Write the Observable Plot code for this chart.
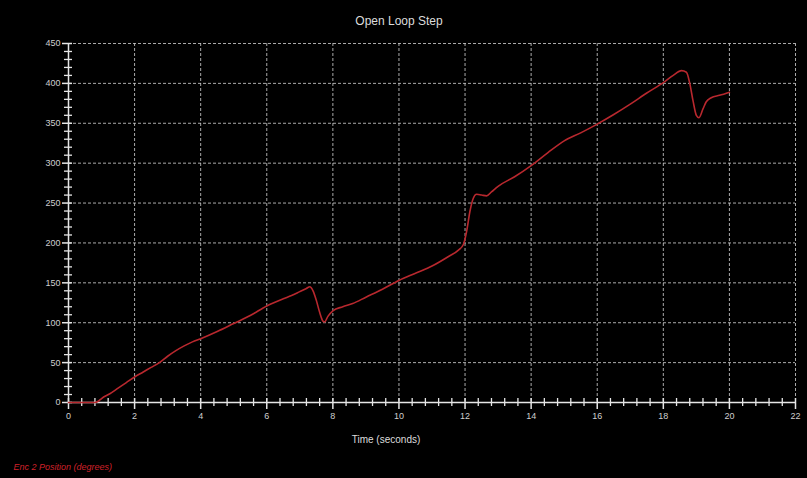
<!DOCTYPE html>
<html>
<head>
<meta charset="utf-8">
<script src="https://cdn.jsdelivr.net/npm/d3@7"></script>
<script src="https://cdn.jsdelivr.net/npm/@observablehq/plot@0.6"></script>
<style>
  html, body { margin: 0; padding: 0; background: #000; }
  #chart { width: 807px; height: 478px; background: #000; }
</style>
</head>
<body>
<div id="chart"></div>
<script>
// Encoder 2 position during an open-loop step
const title = "Open Loop Step";
const xLabel = "Time (seconds)";
const seriesName = "Enc 2 Position (degrees)";

const timeSec = [
  0, 0.8, 0.9, 1.0, 1.25, 1.5, 1.75, 2.0, 2.25, 2.5, 2.75, 3.0, 3.25, 3.5, 3.75,
  4.0, 4.5, 5.0, 5.5, 6.0, 6.5, 6.75, 7.0, 7.2, 7.3, 7.4, 7.5, 7.6, 7.7, 7.75,
  7.85, 8.0, 8.3, 8.6, 9.0, 9.5, 10.0, 10.5, 11.0, 11.5, 11.8, 11.95, 12.05,
  12.15, 12.25, 12.35, 12.5, 12.65, 12.8, 13.0, 13.5, 14.0, 14.5, 15.0, 15.5,
  16.0, 16.5, 17.0, 17.5, 18.0, 18.3, 18.55, 18.7, 18.8, 18.9, 19.0, 19.08,
  19.2, 19.3, 19.45, 19.7, 20.0
];
const positionDeg = [
  0, 0, 1.5, 5, 11, 18, 25, 32, 38, 44, 50, 58, 65, 71, 76,
  80, 89, 99, 109, 121, 130, 134, 139, 143, 145, 140, 128, 113, 102, 101,
  108, 115, 120, 124, 132, 142, 153, 162, 171, 183, 191, 198, 215,
  240, 256, 261, 260, 259, 264, 271, 283, 297, 313, 328, 338,
  349, 361, 374, 388, 401, 410, 416, 414, 400, 378, 360, 357,
  368, 377, 382, 385, 389
];

const xTicks = [0, 2, 4, 6, 8, 10, 12, 14, 16, 18, 20, 22];
const yTicks = [0, 50, 100, 150, 200, 250, 300, 350, 400, 450];
const xMinor = d3.range(0, 56).map(i => +(i * 0.4).toFixed(1)).filter(v => !xTicks.includes(v));
const yMinor = d3.range(0, 46).map(i => i * 10).filter(v => !yTicks.includes(v));

const data = timeSec.map((t, i) => ({t, p: positionDeg[i]}));

const axisColor = "#e6e6e6";
const textColor = "#cfcfcf";
const gridColor = "#c8c8c8";
const lineColor = "#b8282e";

const chart = Plot.plot({
  width: 807,
  height: 478,
  marginLeft: 68,
  marginRight: 12,
  marginTop: 43,
  marginBottom: 76,
  style: {background: "#000", color: textColor, fontFamily: "'Liberation Sans', Arial, sans-serif", fontSize: "9px"},
  x: {domain: [0, 22]},
  y: {domain: [0, 450]},
  marks: [
    // dotted grid
    Plot.gridX(xTicks.filter(d => d > 0), {stroke: gridColor, strokeOpacity: 0.85, strokeDasharray: "3,2"}),
    Plot.gridY(yTicks.filter(d => d > 0), {stroke: gridColor, strokeOpacity: 0.85, strokeDasharray: "3,2"}),
    // axis lines
    Plot.ruleX([0], {y1: 0, y2: 450, stroke: axisColor, strokeWidth: 1.5}),
    Plot.ruleY([0], {x1: 0, x2: 22, stroke: axisColor, strokeWidth: 1.5}),
    // minor ticks straddling the axes
    Plot.axisX(xMinor, {tickSize: 8, dy: -4, fill: "none", stroke: axisColor, strokeWidth: 1.3, label: null}),
    Plot.axisY(yMinor, {tickSize: 8, dx: 4, fill: "none", stroke: axisColor, strokeWidth: 1.3, label: null}),
    // major ticks
    Plot.axisX(xTicks, {tickSize: 11, dy: -4, fill: "none", stroke: axisColor, strokeWidth: 1.5, label: null}),
    Plot.axisY(yTicks, {tickSize: 10, dx: 4, fill: "none", stroke: axisColor, strokeWidth: 1.5, label: null}),
    // tick labels
    Plot.axisX(xTicks, {tickSize: 0, tickPadding: 10, fill: textColor, label: null}),
    Plot.axisY(yTicks, {tickSize: 0, tickPadding: 8, fill: textColor, label: null}),
    // series
    Plot.line(data, {x: "t", y: "p", stroke: lineColor, strokeWidth: 1.6, curve: "monotone-x"}),
    // titles
    Plot.text([title], {frameAnchor: "top", dx: -33, dy: -27, fill: "#dcdcdc", fontSize: 12}),
    Plot.text([xLabel], {frameAnchor: "bottom", dx: -46, dy: 40, fill: "#dcdcdc", fontSize: 10}),
    Plot.text([seriesName], {frameAnchor: "bottom-left", textAnchor: "start", dx: -55, dy: 67, fill: "#d0202a", fontSize: 9, fontStyle: "italic"})
  ]
});
document.getElementById("chart").append(chart);
</script>
</body>
</html>
